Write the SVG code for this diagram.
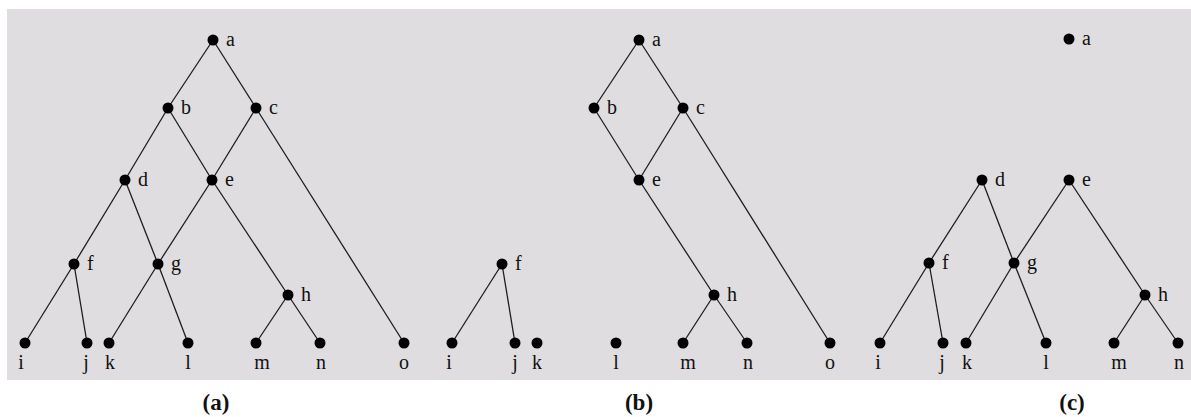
<svg xmlns="http://www.w3.org/2000/svg" width="1191" height="417" viewBox="0 0 1191 417">
<style>
.bg{fill:#dfdde0}
.e line{stroke:#1e1e1e;stroke-width:1.3}
.n circle{fill:#000}
.n text{font-family:"Liberation Serif",serif;font-size:20px;fill:#111}
.lf text{text-anchor:middle}
.cap{font-family:"Liberation Serif",serif;font-size:23px;font-weight:bold;fill:#111;text-anchor:middle}
</style>
<rect width="1191" height="417" fill="#ffffff"/>
<rect class="bg" x="7" y="9" width="1184" height="371"/>

<!-- Panel (a) -->
<g id="a-edges" class="e">
<line x1="213" y1="40" x2="168" y2="108"/>
<line x1="213" y1="40" x2="256" y2="108"/>
<line x1="168" y1="108" x2="125" y2="180"/>
<line x1="168" y1="108" x2="212" y2="180"/>
<line x1="256" y1="108" x2="212" y2="180"/>
<line x1="256" y1="108" x2="404" y2="343"/>
<line x1="125" y1="180" x2="74" y2="264"/>
<line x1="125" y1="180" x2="158" y2="264"/>
<line x1="212" y1="180" x2="158" y2="264"/>
<line x1="212" y1="180" x2="288" y2="295"/>
<line x1="74" y1="264" x2="25" y2="343"/>
<line x1="74" y1="264" x2="87" y2="343"/>
<line x1="158" y1="264" x2="109" y2="343"/>
<line x1="158" y1="264" x2="188" y2="343"/>
<line x1="288" y1="295" x2="256" y2="343"/>
<line x1="288" y1="295" x2="320" y2="343"/>
</g>
<g id="a-a" class="n"><circle cx="213" cy="40" r="5.5"/><text x="226" y="46">a</text></g>
<g id="a-b" class="n"><circle cx="168" cy="108" r="5.5"/><text x="181" y="114">b</text></g>
<g id="a-c" class="n"><circle cx="256" cy="108" r="5.5"/><text x="269" y="114">c</text></g>
<g id="a-d" class="n"><circle cx="125" cy="180" r="5.5"/><text x="138" y="186">d</text></g>
<g id="a-e" class="n"><circle cx="212" cy="180" r="5.5"/><text x="225" y="186">e</text></g>
<g id="a-f" class="n"><circle cx="74" cy="264" r="5.5"/><text x="87" y="270">f</text></g>
<g id="a-g" class="n"><circle cx="158" cy="264" r="5.5"/><text x="171" y="270">g</text></g>
<g id="a-h" class="n"><circle cx="288" cy="295" r="5.5"/><text x="301" y="301">h</text></g>
<g id="a-i" class="n lf"><circle cx="25" cy="343" r="5.5"/><text x="21" y="369">i</text></g>
<g id="a-j" class="n lf"><circle cx="87" cy="343" r="5.5"/><text x="86" y="369">j</text></g>
<g id="a-k" class="n lf"><circle cx="109" cy="343" r="5.5"/><text x="110" y="369">k</text></g>
<g id="a-l" class="n lf"><circle cx="188" cy="343" r="5.5"/><text x="188" y="369">l</text></g>
<g id="a-m" class="n lf"><circle cx="256" cy="343" r="5.5"/><text x="262" y="369">m</text></g>
<g id="a-n" class="n lf"><circle cx="320" cy="343" r="5.5"/><text x="321" y="369">n</text></g>
<g id="a-o" class="n lf"><circle cx="404" cy="343" r="5.5"/><text x="404" y="369">o</text></g>
<text class="cap" x="216" y="410">(a)</text>

<!-- Panel (b) -->
<g id="b-edges" class="e">
<line x1="639" y1="40" x2="594" y2="108"/>
<line x1="639" y1="40" x2="683" y2="108"/>
<line x1="594" y1="108" x2="639" y2="180"/>
<line x1="683" y1="108" x2="639" y2="180"/>
<line x1="683" y1="108" x2="830" y2="343"/>
<line x1="639" y1="180" x2="714" y2="295"/>
<line x1="714" y1="295" x2="683" y2="343"/>
<line x1="714" y1="295" x2="747" y2="343"/>
<line x1="502" y1="264" x2="452" y2="343"/>
<line x1="502" y1="264" x2="515" y2="343"/>
</g>
<g id="b-a" class="n"><circle cx="639" cy="40" r="5.5"/><text x="652" y="46">a</text></g>
<g id="b-b" class="n"><circle cx="594" cy="108" r="5.5"/><text x="607" y="114">b</text></g>
<g id="b-c" class="n"><circle cx="683" cy="108" r="5.5"/><text x="696" y="114">c</text></g>
<g id="b-e" class="n"><circle cx="639" cy="180" r="5.5"/><text x="652" y="186">e</text></g>
<g id="b-f" class="n"><circle cx="502" cy="264" r="5.5"/><text x="515" y="270">f</text></g>
<g id="b-h" class="n"><circle cx="714" cy="295" r="5.5"/><text x="727" y="301">h</text></g>
<g id="b-i" class="n lf"><circle cx="452" cy="343" r="5.5"/><text x="449" y="369">i</text></g>
<g id="b-j" class="n lf"><circle cx="515" cy="343" r="5.5"/><text x="515" y="369">j</text></g>
<g id="b-k" class="n lf"><circle cx="537" cy="343" r="5.5"/><text x="537" y="369">k</text></g>
<g id="b-l" class="n lf"><circle cx="616" cy="343" r="5.5"/><text x="616" y="369">l</text></g>
<g id="b-m" class="n lf"><circle cx="683" cy="343" r="5.5"/><text x="688" y="369">m</text></g>
<g id="b-n" class="n lf"><circle cx="747" cy="343" r="5.5"/><text x="748" y="369">n</text></g>
<g id="b-o" class="n lf"><circle cx="830" cy="343" r="5.5"/><text x="830" y="369">o</text></g>
<text class="cap" x="639" y="410">(b)</text>

<!-- Panel (c) -->
<g id="c-edges" class="e">
<line x1="982" y1="180" x2="929" y2="263"/>
<line x1="982" y1="180" x2="1014" y2="263"/>
<line x1="1069" y1="180" x2="1014" y2="263"/>
<line x1="1069" y1="180" x2="1145" y2="295"/>
<line x1="929" y1="263" x2="880" y2="343"/>
<line x1="929" y1="263" x2="943" y2="343"/>
<line x1="1014" y1="263" x2="966" y2="343"/>
<line x1="1014" y1="263" x2="1046" y2="343"/>
<line x1="1145" y1="295" x2="1114" y2="343"/>
<line x1="1145" y1="295" x2="1178" y2="343"/>
</g>
<g id="c-a" class="n"><circle cx="1069" cy="39" r="5.5"/><text x="1082" y="45">a</text></g>
<g id="c-d" class="n"><circle cx="982" cy="180" r="5.5"/><text x="995" y="186">d</text></g>
<g id="c-e" class="n"><circle cx="1069" cy="180" r="5.5"/><text x="1082" y="186">e</text></g>
<g id="c-f" class="n"><circle cx="929" cy="263" r="5.5"/><text x="942" y="269">f</text></g>
<g id="c-g" class="n"><circle cx="1014" cy="263" r="5.5"/><text x="1027" y="269">g</text></g>
<g id="c-h" class="n"><circle cx="1145" cy="295" r="5.5"/><text x="1158" y="301">h</text></g>
<g id="c-i" class="n lf"><circle cx="880" cy="343" r="5.5"/><text x="878" y="369">i</text></g>
<g id="c-j" class="n lf"><circle cx="943" cy="343" r="5.5"/><text x="942" y="369">j</text></g>
<g id="c-k" class="n lf"><circle cx="966" cy="343" r="5.5"/><text x="967" y="369">k</text></g>
<g id="c-l" class="n lf"><circle cx="1046" cy="343" r="5.5"/><text x="1046" y="369">l</text></g>
<g id="c-m" class="n lf"><circle cx="1114" cy="343" r="5.5"/><text x="1119" y="369">m</text></g>
<g id="c-n" class="n lf"><circle cx="1178" cy="343" r="5.5"/><text x="1179" y="369">n</text></g>
<text class="cap" x="1072" y="410">(c)</text>
</svg>
